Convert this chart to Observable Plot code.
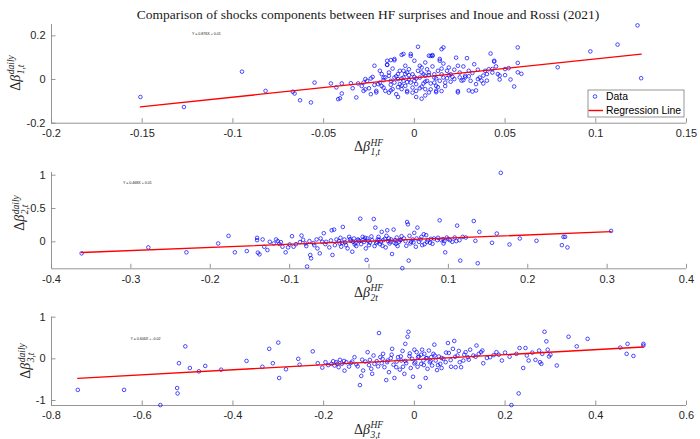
<!DOCTYPE html>
<html><head><meta charset="utf-8">
<script src="https://cdn.jsdelivr.net/npm/d3@7"></script>
<script src="https://cdn.jsdelivr.net/npm/@observablehq/plot@0.6"></script>
<style>
html,body{margin:0;padding:0;background:#fff;overflow:hidden;}
#fig{position:relative;width:700px;height:439px;background:#fff;}
#title{position:absolute;left:68px;width:600px;top:6px;text-align:center;font-family:"Liberation Serif","DejaVu Serif",serif;font-size:13.5px;color:#1a1a1a;line-height:18px;white-space:nowrap;}
.panel{position:absolute;left:0;}
</style></head><body>
<div id="fig"><div id="title"></div></div>
<script>
// ---------------- data ----------------
const title = "Comparison of shocks components between HF surprises and Inoue and Rossi (2021)";
const seriesNames = ["Data", "Regression Line"];
const eqLabels = ["Y = 0.876X + 0.01", "Y = 0.468X + 0.01", "Y = 0.606X + -0.02"];
const slopes = [0.876, 0.468, 0.606];
const intercepts = [0.007, 0.010, -0.020];
const eqX = [-0.1226, -0.310, -0.626];
const eqY = [0.21, 0.89, 0.47];

const xTicks1 = [-0.2, -0.15, -0.1, -0.05, 0, 0.05, 0.1, 0.15];
const xTickLabels1 = ["-0.2", "-0.15", "-0.1", "-0.05", "0", "0.05", "0.1", "0.15"];
const yTicks1 = [-0.2, 0, 0.2];
const yTickLabels1 = ["-0.2", "0", "0.2"];
const xTicks2 = [-0.4, -0.3, -0.2, -0.1, 0, 0.1, 0.2, 0.3, 0.4];
const xTickLabels2 = ["-0.4", "-0.3", "-0.2", "-0.1", "0", "0.1", "0.2", "0.3", "0.4"];
const yTicks2 = [0, 0.5, 1];
const yTickLabels2 = ["0", "0.5", "1"];
const xTicks3 = [-0.8, -0.6, -0.4, -0.2, 0, 0.2, 0.4, 0.6];
const xTickLabels3 = ["-0.8", "-0.6", "-0.4", "-0.2", "0", "0.2", "0.4", "0.6"];
const yTicks3 = [-1, 0, 1];
const yTickLabels3 = ["-1", "0", "1"];

const xDomains = [[-0.2, 0.15], [-0.4, 0.4], [-0.8, 0.6]];
const yDomains = [[-0.2, 0.252], [-0.405, 1.04], [-1.12, 1.0]];

const ySubs = ["1,t", "2,t", "3,t"];
const xSubs = ["1,t", "2t", "3,t"];

const dots1 = [
[-0.151,-0.080],[-0.127,-0.126],[-0.095,0.036],[-0.082,-0.052],[-0.067,-0.056],[-0.066,-0.064],[-0.063,-0.095],[-0.057,-0.105],[-0.055,-0.014],[-0.046,-0.018],[-0.043,-0.036],[-0.042,-0.090],[-0.041,-0.086],[-0.040,-0.018],[-0.040,-0.064],[-0.035,-0.017],[-0.034,-0.040],[-0.032,-0.082],[-0.031,-0.018],[-0.028,-0.052],[-0.028,-0.014],[-0.027,0.002],[-0.026,-0.006],[-0.025,-0.040],[-0.024,-0.067],[-0.023,0.012],[-0.022,0.063],[-0.021,-0.052],[-0.021,-0.059],[-0.020,-0.021],[-0.019,-0.014],[-0.018,0.025],[-0.017,0.009],[-0.017,-0.003],[-0.017,-0.037],[-0.016,-0.052],[-0.015,0.086],[-0.015,0.067],[-0.014,0.032],[-0.014,0.017],[-0.013,-0.006],[-0.013,-0.024],[-0.012,-0.044],[-0.011,0.088],[-0.011,0.009],[-0.011,-0.014],[-0.010,-0.067],[-0.009,0.025],[-0.009,0.002],[-0.008,0.040],[-0.008,-0.021],[-0.007,0.113],
[-0.007,-0.044],[-0.006,0.009],[-0.006,-0.006],[-0.005,0.025],[-0.005,0.063],[-0.005,-0.029],[-0.004,0.032],[-0.004,-0.052],[-0.003,0.002],[-0.003,0.047],[-0.002,0.108],[-0.002,-0.014],[-0.001,-0.037],[-0.001,0.024],[0.000,0.012],[0.000,0.086],[0.000,-0.006],[0.001,-0.052],[0.001,-0.021],[0.002,0.040],[0.002,0.150],[0.003,0.009],[0.003,0.063],[0.004,0.032],[0.004,-0.033],[0.005,0.024],[0.005,-0.018],[0.006,0.078],[0.006,-0.044],[0.006,0.017],[0.007,0.047],[0.007,-0.006],[0.008,-0.059],[0.008,0.032],[0.009,-0.018],[0.009,0.108],[0.010,0.108],[0.011,0.009],[0.011,-0.014],[0.011,0.024],[0.012,-0.052],[0.012,-0.029],[0.013,0.040],[0.014,-0.006],[0.014,0.086],[0.015,0.139],[0.015,0.024],[0.016,0.009],[0.016,0.073],[0.017,-0.014],[0.018,0.040],[0.018,0.006],[0.019,0.055],[0.020,0.024],[0.021,0.012],[0.022,0.002],[0.024,-0.059],[0.024,0.063],[0.025,0.032],[0.027,-0.003],[0.028,0.017],[0.029,0.098],[0.030,0.040],[0.031,-0.006],[0.032,-0.055],[0.033,0.070],[0.034,-0.021],[0.035,0.002],[0.036,0.009],[0.038,-0.018],[0.039,0.040],[0.041,0.047],[0.042,0.119],[0.043,0.032],[0.044,0.082],[0.046,0.025],
[0.043,0.048],[0.044,0.086],[0.047,0.018],[0.050,0.048],[0.053,0.000],[0.055,-0.032],[0.057,0.147],[0.057,0.076],[0.057,0.033],[0.059,0.026],[0.079,0.056],[0.097,0.129],[0.112,0.160],[0.123,0.248],[0.125,0.006],
[0.037,-0.005],[0.034,-0.050],[0.023,0.100],[0.014,0.094],[0.016,0.147],[0.010,0.112],[0.008,0.109],[-0.006,0.117],[-0.011,0.094],[-0.015,0.068],[-0.013,0.089],[-0.002,0.117],
[0.006,-0.073],[0.004,-0.088],[0.012,-0.058],[0.015,-0.053],[0.001,-0.080],[-0.004,-0.058],[-0.009,-0.080],[-0.013,-0.050],[-0.007,-0.027],[0.024,-0.053],[0.030,-0.050],
[0.026,-0.005],[0.028,0.010],[0.038,0.018],[0.040,-0.005],[0.047,0.000],[0.052,0.052],
[-0.029,-0.030],[-0.027,-0.045],[-0.024,0.005],[-0.022,-0.025],[-0.019,0.040],[-0.018,-0.030],[-0.016,0.010],[-0.014,-0.060],[-0.012,0.050],[-0.010,0.015],[-0.009,-0.035],[-0.007,0.005],[-0.006,0.040],[-0.004,-0.012],[-0.003,0.020],[-0.001,-0.060],[0.001,0.005],[0.003,-0.040],[0.004,0.055],[0.006,-0.010],[0.008,0.020],[0.009,-0.045],[0.010,0.060],[0.012,0.005],[0.013,-0.035],[0.015,0.050],[0.017,-0.030],[0.019,0.020],[0.020,-0.010],[0.022,0.045],[0.025,0.010],[0.027,0.060],[0.030,0.015],[0.032,0.030],[0.035,0.045],[0.040,0.025],[0.045,0.060],[0.050,0.020]
];

const dots2 = [
[-0.362,-0.173],[-0.278,-0.084],[-0.230,-0.158],[-0.190,-0.025],[-0.177,0.089],[-0.169,-0.158],[-0.154,-0.139],[-0.141,0.059],[-0.141,0.025],[-0.140,-0.163],[-0.138,-0.188],[-0.134,0.035],[-0.132,-0.074],[-0.128,-0.124],[-0.115,0.010],[-0.111,-0.005],[-0.109,-0.074],[-0.105,-0.158],[-0.102,-0.084],[-0.097,0.084],[-0.095,-0.074],[-0.087,-0.005],[-0.085,0.094],[-0.080,-0.025],[-0.079,-0.064],[-0.078,-0.371],[-0.074,-0.198],[-0.073,-0.248],[-0.069,-0.050],[-0.065,-0.099],[-0.062,-0.173],[-0.061,0.050],[-0.059,0.000],[-0.057,0.129],[-0.054,0.000],[-0.050,-0.084],[-0.047,0.173],[-0.046,-0.198],[-0.044,0.183],[-0.038,0.010],[-0.037,-0.025],[-0.035,-0.074],[-0.033,0.223],[-0.031,0.035],[-0.029,-0.050],[-0.027,-0.099],[-0.025,0.074],[-0.023,0.015],[-0.021,-0.149],[-0.019,0.050],[-0.017,-0.015],[-0.016,-0.064],[-0.013,0.025],[-0.011,0.347],[-0.010,-0.035],[-0.008,0.074],[-0.006,0.000],[-0.004,-0.099],[-0.003,-0.272],[-0.002,0.050],[0.001,-0.015],[0.004,0.025],[0.006,0.342],[0.007,-0.064],[0.008,0.213],[0.010,0.000],[0.012,0.074],[0.014,-0.035],[0.016,0.149],[0.018,0.025],[0.021,-0.084],[0.023,0.173],[0.025,0.050],[0.026,-0.025],[0.029,-0.183],[0.031,0.183],[0.033,0.025],[0.036,-0.064],[0.038,0.000],[0.041,0.084],[0.042,-0.396],[0.044,0.050],[0.048,0.297],[0.049,0.262],[0.050,-0.282],[0.052,-0.025],[0.055,0.035],[0.057,0.134],[0.059,-0.074],[0.061,0.213],[0.063,0.000],[0.066,0.074],[0.069,0.114],[0.070,-0.035],[0.074,0.025],[0.077,-0.015],[0.082,0.050],[0.089,0.322],[0.091,0.025],[0.094,-0.025],[0.096,-0.158],[0.098,0.064],[0.105,0.000],[0.108,0.064],[0.111,0.243],[0.114,0.025],[0.115,-0.282],[0.118,0.074],[0.132,0.312],[0.134,0.015],[0.137,-0.322],[0.139,0.149],[0.155,-0.015],[0.161,0.124],[0.166,1.035],[0.177,-0.040],[0.190,0.050],[0.211,0.015],[0.243,-0.050],[0.245,0.074],[0.247,0.074],[0.250,-0.084],[0.305,0.163],
[-0.020,0.000],[-0.014,0.035],[-0.007,0.035],[-0.001,0.015],[0.011,0.035],[0.015,0.000],[0.020,0.045],[0.024,0.010],[0.028,0.035],[0.032,-0.015],[0.035,0.064],[0.039,0.025],[0.046,0.010],[0.053,0.000],[0.065,0.035],[0.073,0.000],[0.078,0.045],[0.086,0.025],[0.093,0.040],[0.102,0.025],[0.122,0.064],
[-0.125,0.000],[-0.120,-0.025],[-0.117,0.035],[-0.092,-0.035],[-0.075,0.010],[-0.066,0.035],[-0.055,-0.035],[-0.041,0.035],[-0.034,-0.015],
[-0.048,0.020],[-0.043,-0.050],[-0.036,0.060],[-0.030,-0.010],[-0.024,0.040],[-0.018,-0.040],[-0.012,0.010],[-0.005,0.060],[0.000,-0.050],[0.003,0.080],[0.009,-0.020],[0.013,0.030],[0.017,-0.060],[0.022,0.090],[0.027,0.000],[0.034,-0.030],[0.040,0.030],[0.047,-0.060],[0.051,0.090],[0.056,-0.010],[0.060,0.050],[0.067,-0.050],[0.072,0.100],[0.080,-0.030],[0.087,0.060],[0.095,0.010],[0.100,0.040],[0.110,0.010],[-0.070,-0.020],[-0.083,0.030],[-0.100,-0.040],[-0.113,-0.030]
];

const dots3 = [
[-0.742,-0.745],[-0.640,-0.745],[-0.560,-1.110],[-0.523,-0.700],[-0.522,-0.830],[-0.519,-0.105],[-0.505,0.300],[-0.495,-0.220],[-0.475,-0.300],[-0.461,-0.170],[-0.426,-0.260],[-0.370,-0.050],[-0.335,-0.190],[-0.320,0.240],[-0.312,-0.105],[-0.300,0.390],[-0.298,-0.460],[-0.283,-0.250],[-0.256,0.000],[-0.253,-0.140],[-0.224,0.180],[-0.213,-0.105],[-0.203,-0.210],[-0.196,-0.080],
[-0.183,-0.120],[-0.179,-0.057],[-0.176,-0.160],[-0.172,-0.080],[-0.167,-0.200],[-0.164,-0.024],[-0.160,-0.120],[-0.154,-0.283],[-0.150,-0.080],[-0.144,-0.186],
[-0.137,-0.065],[-0.132,0.040],[-0.125,-0.180],[-0.120,-0.630],[-0.117,-0.410],[-0.113,-0.280],[-0.108,-0.065],[-0.103,0.160],[-0.098,-0.024],[-0.095,-0.240],[-0.093,-0.360],[-0.088,-0.120],[-0.083,-0.057],[-0.078,0.620],[-0.075,0.040],[-0.072,-0.105],[-0.069,0.120],[-0.066,-0.200],[-0.062,-0.510],[-0.059,-0.040],[-0.056,-0.320],[-0.052,0.016],[-0.049,0.240],[-0.046,-0.140],[-0.044,-0.460],[-0.039,-0.065],[-0.036,0.040],[-0.032,-0.260],[-0.029,-0.040],[-0.026,0.190],[-0.025,-0.190],[-0.022,-0.360],[-0.020,0.360],[-0.018,-0.105],[-0.015,0.530],[-0.013,0.650],[-0.011,0.065],[-0.008,-0.220],[-0.005,0.000],[-0.003,-0.430],[0.000,0.220],[0.002,-0.080],[0.005,0.160],[0.007,-0.190],[0.010,0.057],[0.012,-0.670],[0.015,-0.120],[0.017,0.220],[0.020,-0.040],[0.022,0.120],[0.025,-0.460],[0.026,0.016],[0.029,-0.240],[0.032,0.200],[0.034,-0.080],[0.037,0.040],[0.039,-0.160],[0.042,0.120],[0.044,0.340],[0.047,-0.040],[0.050,-0.270],[0.054,0.057],[0.057,-0.120],[0.060,-0.220],[0.064,0.000],[0.069,-0.080],[0.074,0.380],[0.076,0.140],[0.081,-0.190],[0.085,0.240],[0.088,0.430],[0.091,-0.200],[0.095,0.080],[0.098,0.190],[0.103,-0.200],[0.108,-0.040],[0.113,0.160],[0.118,0.040],[0.123,0.220],[0.130,0.080],[0.137,0.320],[0.142,0.120],[0.147,0.160],[0.152,-0.105],[0.167,0.040],[0.181,0.160],[0.186,0.100],[0.193,-0.040],[0.214,-1.110],[0.225,0.120],[0.230,-0.830],[0.232,0.260],[0.240,-0.220],[0.245,0.260],[0.248,0.080],[0.252,-0.040],[0.267,-0.024],[0.277,-0.080],[0.280,-0.120],[0.282,0.120],[0.287,0.650],[0.291,0.420],[0.294,0.220],[0.297,0.057],[0.300,0.100],[0.314,-0.160],[0.340,0.530],[0.358,0.300],[0.382,0.480],[0.454,0.270],[0.468,0.120],[0.470,0.360],[0.483,0.070],[0.505,0.320],[0.505,0.360],
[-0.190,-0.150],[-0.170,-0.120],[-0.155,-0.050],[-0.140,-0.100],[-0.128,-0.130],[-0.115,-0.020],[-0.100,-0.150],[-0.090,0.080],[-0.080,-0.180],[-0.070,0.000],[-0.060,-0.080],[-0.050,0.100],[-0.040,-0.200],[-0.030,0.060],[-0.020,-0.050],[-0.010,0.130],[0.000,-0.110],[0.008,0.040],[0.015,0.100],[0.021,-0.150],[0.028,0.020],[0.036,-0.050],[0.045,0.080],[0.052,-0.150],[0.060,0.020],[0.070,0.150],[0.080,-0.030],[0.090,0.050],[0.100,-0.080],[0.110,0.100],[0.120,-0.020],[0.135,0.050],[0.150,0.200],[0.160,0.020],[0.175,0.090],[0.200,0.150],[0.210,0.050],[0.260,0.150],[0.275,0.200]
];
const allDots = [dots1, dots2, dots3];
const allXTicks = [xTicks1, xTicks2, xTicks3];
const allXTickLabels = [xTickLabels1, xTickLabels2, xTickLabels3];
const allYTicks = [yTicks1, yTicks2, yTicks3];
const allYTickLabels = [yTickLabels1, yTickLabels2, yTickLabels3];

// ---------------- layout ----------------
const tops = [20, 160, 300];
const heights = [140, 140, 139];
const mTop = [4, 12, 16.7];
const mBottom = [37.3, 31.7, 34];
const yLabelPos = [[19.5, 53], [24, 53], [30, 61]];
const axisColor = "#8a8a8a";
const textColor = "#262626";

document.getElementById("title").textContent = title;
const fig = document.getElementById("fig");

function mathLabel(svg, x, y, rotate, sup, sub) {
  const g = svg.append("g")
    .attr("font-family", "'Liberation Serif','DejaVu Serif',serif")
    .attr("text-anchor", "start")
    .attr("fill", textColor);
  const t = g.append("text").attr("font-size", 14);
  t.append("tspan").text("Δ");
  t.append("tspan").attr("font-style", "italic").text("β");
  const w = t.node().getComputedTextLength();
  const supT = g.append("text").attr("x", w + 0.5).attr("y", -5.5).attr("font-size", 9.5).attr("font-style", "italic").text(sup);
  const subT = g.append("text").attr("x", w + 0.5).attr("y", 4).attr("font-size", 9.5).attr("font-style", "italic").text(sub);
  const total = w + 0.5 + Math.max(supT.node().getComputedTextLength(), subT.node().getComputedTextLength());
  g.attr("transform", `translate(${x},${y}) rotate(${rotate}) translate(${-total / 2},0)`);
}

for (let i = 0; i < 3; i++) {
  const pts = allDots[i].map(([x, y]) => ({x, y}));
  const xmin = d3.min(pts, d => d.x), xmax = d3.max(pts, d => d.x);
  const reg = [xmin, xmax].map(x => ({x, y: slopes[i] * x + intercepts[i]}));
  const fx = new Map(allXTicks[i].map((t, j) => [t, allXTickLabels[i][j]]));
  const fy = new Map(allYTicks[i].map((t, j) => [t, allYTickLabels[i][j]]));
  const plot = Plot.plot({
    width: 700, height: heights[i],
    marginLeft: 51, marginRight: 14, marginTop: mTop[i], marginBottom: mBottom[i],
    style: {fontFamily: "'Liberation Sans', Arial, Helvetica, sans-serif", fontSize: "11px", color: textColor, background: "transparent", overflow: "visible"},
    x: {domain: xDomains[i], label: null},
    y: {domain: yDomains[i], label: null},
    marks: [
      Plot.ruleX([xDomains[i][0]], {stroke: axisColor, strokeWidth: 0.9}),
      Plot.ruleY([yDomains[i][0]], {stroke: axisColor, strokeWidth: 0.9}),
      Plot.axisX({ticks: allXTicks[i], tickFormat: d => fx.get(d), tickSize: -4.5, tickPadding: 10.5, stroke: axisColor, strokeWidth: 0.9, fill: textColor, label: null}),
      Plot.axisY({ticks: allYTicks[i], tickFormat: d => fy.get(d), tickSize: -4.5, tickPadding: 10.5, stroke: axisColor, strokeWidth: 0.9, fill: textColor, label: null}),
      Plot.dot(pts, {x: "x", y: "y", r: 1.8, stroke: "#0000ff", strokeWidth: 0.7, fill: "none"}),
      Plot.line(reg, {x: "x", y: "y", stroke: "#ff0000", strokeWidth: 1.4}),
      Plot.text([{x: eqX[i], y: eqY[i], t: eqLabels[i]}], {x: "x", y: "y", text: "t", textAnchor: "start", fontSize: 3.6, fill: "#111"})
    ]
  });
  plot.classList.add("panel");
  plot.style.top = tops[i] + "px";
  fig.appendChild(plot);
  const svg = d3.select(plot);
  const axisBottomLocal = heights[i] - mBottom[i];
  mathLabel(svg, 368.5, axisBottomLocal + 28.5, 0, "HF", xSubs[i]);
  mathLabel(svg, yLabelPos[i][0], yLabelPos[i][1], -90, "daily", ySubs[i]);

  if (i === 0) {
    const lg = svg.append("g").attr("font-family", "'Liberation Sans', Arial, sans-serif")
      .attr("font-size", 10.4).attr("text-anchor", "start");
    lg.append("rect").attr("x", 588).attr("y", 70).attr("width", 96).attr("height", 27)
      .attr("fill", "#fff").attr("stroke", "#6a6a6a").attr("stroke-width", 0.7);
    lg.append("circle").attr("cx", 595).attr("cy", 76.5).attr("r", 1.8).attr("fill", "none").attr("stroke", "#0000ff").attr("stroke-width", 0.7);
    lg.append("line").attr("x1", 588.5).attr("x2", 603).attr("y1", 90.5).attr("y2", 90.5).attr("stroke", "#ff0000").attr("stroke-width", 1.4);
    lg.append("text").attr("x", 606).attr("y", 76.5).attr("dy", "0.35em").attr("fill", "#000").text(seriesNames[0]);
    lg.append("text").attr("x", 606).attr("y", 90.5).attr("dy", "0.35em").attr("fill", "#000").text(seriesNames[1]);
  }
}
</script></body></html>
